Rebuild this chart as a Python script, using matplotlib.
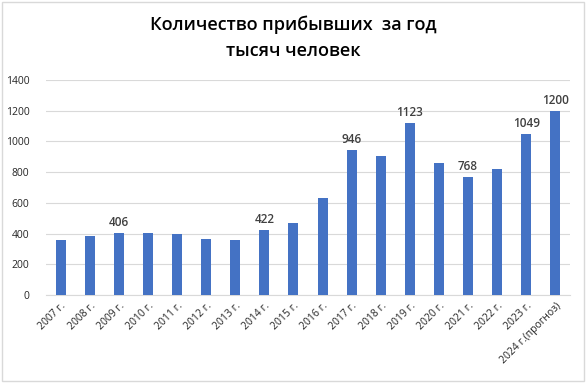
import numpy as np
import matplotlib.pyplot as plt
from matplotlib.patches import Rectangle

years = ["2007 г.", "2008 г.", "2009 г.", "2010 г.", "2011 г.", "2012 г.",
         "2013 г.", "2014 г.", "2015 г.", "2016 г.", "2017 г.", "2018 г.",
         "2019 г.", "2020 г.", "2021 г.", "2022 г.", "2023 г.", "2024 г.(прогноз)"]
values = [361, 387, 406, 405, 400, 367, 360, 422, 472, 630, 946, 905,
          1123, 859, 768, 820, 1049, 1200]
labeled = ["2009 г.", "2014 г.", "2017 г.", "2019 г.", "2021 г.", "2023 г.", "2024 г.(прогноз)"]

plt.rcParams['font.family'] = ['Open Sans', 'DejaVu Sans']

fig = plt.figure(figsize=(5.86, 3.83), dpi=100)
ax = fig.add_axes([46/586, 1 - 295/383, 524/586, 215/383])

x = np.arange(len(years))
ax.bar(x, values, width=0.34, color='#4472C4', zorder=3)

for xi, yr, v in zip(x, years, values):
    if yr in labeled:
        ax.text(xi, v + 25, str(v), ha='center', va='bottom',
                fontsize=8.5, color='#404040', fontweight='semibold')

ax.set_xlim(-0.5, len(years) - 0.5)
ax.set_ylim(0, 1400)
ax.set_yticks(range(0, 1401, 200))
ax.grid(axis='y', color='#D9D9D9', linewidth=0.8, zorder=0)
ax.set_xticks(x)
ax.set_xticklabels(years, rotation=45, ha='right', rotation_mode='anchor',
                   fontsize=7.5, color='#262626')
ax.tick_params(axis='y', labelsize=7.5, colors='#262626', length=0, pad=12)
ax.tick_params(axis='x', length=0, pad=4)
for s in ['top', 'right', 'left']:
    ax.spines[s].set_visible(False)
ax.spines['bottom'].set_color('#D9D9D9')

fig.text(0.5, 1 - 25/383, "Количество прибывших  за год", ha='center', va='center',
         fontsize=13, fontweight='semibold', color='black')
fig.text(0.5, 1 - 51/383, "тысяч человек", ha='center', va='center',
         fontsize=13, fontweight='semibold', color='black')

fig.patches.append(Rectangle((2/586, 2/383), 1 - 4/586, 1 - 4/383, transform=fig.transFigure,
                             fill=False, edgecolor='#D9D9D9', linewidth=1))

fig.savefig("out.png", dpi=100)
